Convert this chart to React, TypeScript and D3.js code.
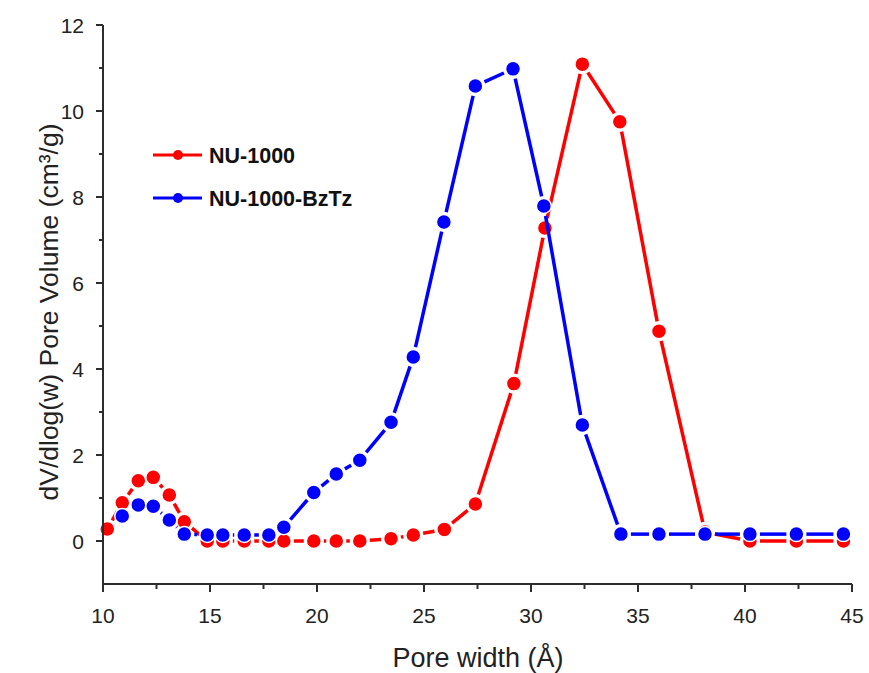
import React from "react";
import * as d3 from "d3";

const poreWidth = [10.2, 10.9, 11.65, 12.35, 13.1, 13.8, 14.87, 15.6, 16.6, 17.75, 18.45, 19.85, 20.9, 22.0, 23.46, 24.5, 25.95, 27.4, 29.2, 30.65, 32.4, 34.15, 35.98, 38.13, 40.23, 42.4, 44.6];
const nu1000 = [0.28, 0.89, 1.4, 1.48, 1.07, 0.45, 0, 0, 0, 0, 0, 0, 0, 0, 0.05, 0.14, 0.27, 0.86, 3.66, 7.28, 11.09, 9.75, 4.88, 0.21, 0, 0, 0];

const bzWidth = [10.9, 11.65, 12.35, 13.1, 13.8, 14.87, 15.6, 16.6, 17.75, 18.45, 19.85, 20.9, 22.0, 23.46, 24.5, 25.93, 27.4, 29.16, 30.6, 32.4, 34.2, 35.98, 38.13, 40.23, 42.4, 44.6];
const nu1000BzTz = [0.58, 0.84, 0.81, 0.49, 0.16, 0.14, 0.14, 0.14, 0.14, 0.32, 1.13, 1.56, 1.88, 2.76, 4.28, 7.42, 10.58, 10.98, 7.79, 2.7, 0.16, 0.16, 0.16, 0.16, 0.16, 0.16];

const seriesNames = ["NU-1000", "NU-1000-BzTz"];
const seriesColors = ["#ff0000", "#0000ff"];
const xTicks = [10, 15, 20, 25, 30, 35, 40, 45];
const xMinor = [12.5, 17.5, 22.5, 27.5, 32.5, 37.5, 42.5];
const yTicks = [0, 2, 4, 6, 8, 10, 12];
const yMinor = [1, 3, 5, 7, 9, 11];

const W = 869;
const H = 673;
const left = 103;
const right = 852;
const top = 25;
const bottom = 584;

const font = "Arial, 'Liberation Sans', Helvetica, sans-serif";
const axisColor = "#2d2d2d";

export default function App() {
  const x = d3.scaleLinear().domain([10, 45]).range([left, right]);
  const y = d3.scaleLinear().domain([-1, 12]).range([bottom, top]);

  const series = [
    { name: seriesNames[0], color: seriesColors[0], xs: poreWidth, ys: nu1000 },
    { name: seriesNames[1], color: seriesColors[1], xs: bzWidth, ys: nu1000BzTz },
  ];
  const r = 7.5;
  const gap = 10;

  const segments = (xs: number[], ys: number[]) => {
    const out: string[] = [];
    for (let i = 0; i < xs.length - 1; i++) {
      const x1 = x(xs[i]), y1 = y(ys[i]), x2 = x(xs[i + 1]), y2 = y(ys[i + 1]);
      const dx = x2 - x1, dy = y2 - y1;
      const len = Math.hypot(dx, dy);
      if (len <= 2 * gap) continue;
      const ux = dx / len, uy = dy / len;
      const p = d3.path();
      p.moveTo(x1 + ux * gap, y1 + uy * gap);
      p.lineTo(x2 - ux * gap, y2 - uy * gap);
      out.push(p.toString());
    }
    return out;
  };

  return (
    <div style={{ position: "absolute", left: 0, top: 0 }}>
      <svg width={W} height={H} style={{ display: "block", background: "#fff" }}>
        <rect width={W} height={H} fill="#fff" />
        {series.map((s) => (
          <g key={s.name}>
            {segments(s.xs, s.ys).map((d, i) => (
              <path key={i} d={d} stroke={s.color} strokeWidth={3.5} fill="none" />
            ))}
            {s.xs.map((xv, i) => (
              <circle key={i} cx={x(xv)} cy={y(s.ys[i])} r={r} fill={s.color} stroke="#fff" strokeWidth={1.5} />
            ))}
          </g>
        ))}
        {/* axes */}
        <line x1={left} y1={top} x2={left} y2={bottom} stroke={axisColor} strokeWidth={2} />
        <line x1={left - 1} y1={bottom} x2={right} y2={bottom} stroke={axisColor} strokeWidth={2} />
        {yTicks.map((t) => (
          <g key={t}>
            <line x1={left - 7} x2={left} y1={y(t)} y2={y(t)} stroke={axisColor} strokeWidth={2} />
            <text x={left - 19} y={y(t)} dy="0.36em" textAnchor="end" fontFamily={font} fontSize={21} fill="#222">{t}</text>
          </g>
        ))}
        {yMinor.map((t) => (
          <line key={t} x1={left - 4} x2={left} y1={y(t)} y2={y(t)} stroke={axisColor} strokeWidth={2} />
        ))}
        {xTicks.map((t) => (
          <g key={t}>
            <line x1={x(t)} x2={x(t)} y1={bottom} y2={bottom + 8} stroke={axisColor} strokeWidth={2} />
            <text x={x(t)} y={bottom + 39} textAnchor="middle" fontFamily={font} fontSize={21} fill="#222">{t}</text>
          </g>
        ))}
        {xMinor.map((t) => (
          <line key={t} x1={x(t)} x2={x(t)} y1={bottom} y2={bottom + 5} stroke={axisColor} strokeWidth={2} />
        ))}
        <text x={478} y={667} textAnchor="middle" fontFamily={font} fontSize={27} fill="#222">Pore width (Å)</text>
        <text transform={`translate(58, 312) rotate(-90)`} textAnchor="middle" fontFamily={font} fontSize={26.5} fill="#222">dV/dlog(w) Pore Volume (cm³/g)</text>
        {/* legend */}
        {series.map((s, i) => {
          const ly = 155 + i * 43;
          return (
            <g key={s.name}>
              <line x1={153} x2={202} y1={ly} y2={ly} stroke={s.color} strokeWidth={3} />
              <circle cx={178} cy={ly} r={5} fill={s.color} />
              <text x={209} y={ly + 8} fontFamily={font} fontWeight="bold" fontSize={21.5} fill="#111">{s.name}</text>
            </g>
          );
        })}
      </svg>
    </div>
  );
}
